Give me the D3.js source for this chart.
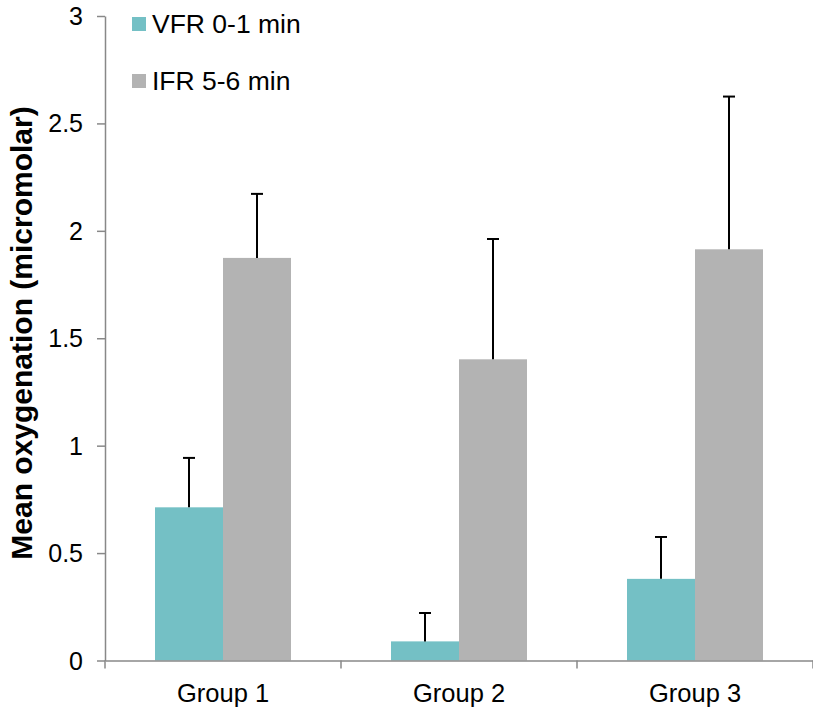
<!DOCTYPE html>
<html><head><meta charset="utf-8">
<script src="https://cdn.jsdelivr.net/npm/d3@7"></script>
<style>body{margin:0;background:#fff;} text{font-family:"Liberation Sans",Arial,sans-serif;}</style>
</head><body>
<svg id="c" width="813" height="708"></svg>
<script>
const categories = ["Group 1", "Group 2", "Group 3"];
const seriesNames = ["VFR 0-1 min", "IFR 5-6 min"];
const vfrValues = [0.713, 0.089, 0.380];
const vfrErrors = [0.230, 0.132, 0.195];
const ifrValues = [1.874, 1.402, 1.914];
const ifrErrors = [0.298, 0.560, 0.711];
const yTicks = [0, 0.5, 1, 1.5, 2, 2.5, 3];
const colors = ["#74C0C5", "#B3B3B3"];

const svg = d3.select("#c");
const mLeft = 105, mRight = 813, mTop = 16, mBottom = 660.5;
const x = d3.scaleBand().domain(categories).range([mLeft, mRight]).padding(0);
const y = d3.scaleLinear().domain([0, 3]).range([mBottom, mTop]);
const barW = 68;

const series = [
  {name: seriesNames[0], values: vfrValues, errors: vfrErrors, color: colors[0], off: -barW},
  {name: seriesNames[1], values: ifrValues, errors: ifrErrors, color: colors[1], off: 0}
];

// bars
series.forEach(s => {
  svg.append("g").selectAll("rect").data(categories).join("rect")
    .attr("x", d => x(d) + x.bandwidth()/2 + s.off)
    .attr("width", barW)
    .attr("y", (d,i) => y(s.values[i]))
    .attr("height", (d,i) => y(0) - y(s.values[i]))
    .attr("fill", s.color);
});
// error bars
series.forEach(s => {
  const g = svg.append("g").attr("stroke", "#000").attr("stroke-width", 2);
  categories.forEach((c,i) => {
    const cx = x(c) + x.bandwidth()/2 + s.off + barW/2;
    g.append("line").attr("x1", cx).attr("x2", cx)
      .attr("y1", y(s.values[i])).attr("y2", y(s.values[i] + s.errors[i]));
    g.append("line").attr("x1", cx-6).attr("x2", cx+6)
      .attr("y1", y(s.values[i] + s.errors[i])).attr("y2", y(s.values[i] + s.errors[i]));
  });
});

// y axis
const yAxis = svg.append("g").attr("transform", `translate(${mLeft},0)`)
  .call(d3.axisLeft(y).tickValues(yTicks).tickSize(8).tickSizeOuter(0).tickFormat(d3.format("")));
yAxis.select(".domain").attr("stroke", "#888").attr("stroke-width", 1.5);
yAxis.selectAll(".tick line").attr("stroke", "#888").attr("stroke-width", 1.5);
yAxis.selectAll(".tick text").attr("font-size", 25).attr("fill", "#000").attr("x", -22).attr("dy", "0.34em")
  .attr("font-family", '"Liberation Sans",Arial,sans-serif');

// x axis
const xAxis = svg.append("g").attr("transform", `translate(0,${mBottom})`)
  .call(d3.axisBottom(x).tickSize(0).tickSizeOuter(0));
xAxis.select(".domain").attr("stroke", "#888").attr("stroke-width", 1.5);
xAxis.selectAll(".tick text").attr("font-size", 25.5).attr("fill", "#000").attr("dy", 0).attr("y", 41)
  .attr("font-family", '"Liberation Sans",Arial,sans-serif');
// x category boundary ticks
const bounds = categories.map(c => x(c)).concat([mRight]);
svg.append("g").selectAll("line").data(bounds).join("line")
  .attr("x1", d => d).attr("x2", d => d).attr("y1", mBottom).attr("y2", mBottom + 8)
  .attr("stroke", "#888").attr("stroke-width", 1.5);

// y label
svg.append("text").attr("transform", `translate(32,333) rotate(-90)`)
  .attr("text-anchor", "middle").attr("font-size", 30).attr("font-weight", "bold")
  .text("Mean oxygenation (micromolar)");

// legend
const lg = svg.append("g");
series.forEach((s, i) => {
  const yy = 24 + i * 57;
  lg.append("rect").attr("x", 132).attr("y", yy - 7).attr("width", 14).attr("height", 14).attr("fill", s.color);
  lg.append("text").attr("x", 152).attr("y", yy + 9).attr("font-size", 26.5).text(s.name);
});
</script>
</body></html>
